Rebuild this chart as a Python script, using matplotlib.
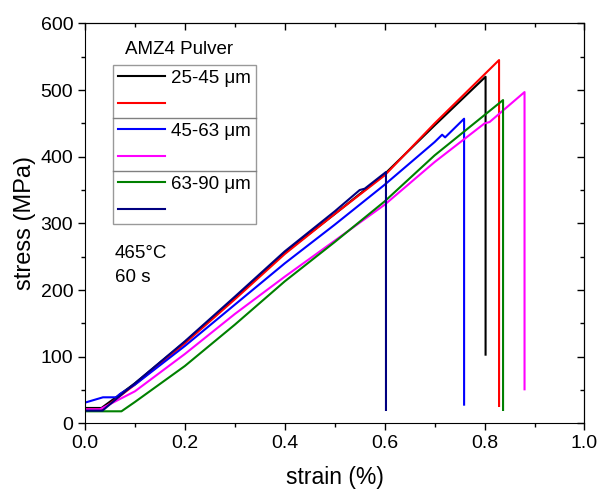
import numpy as np
import matplotlib
matplotlib.use('Agg')
import matplotlib.pyplot as plt
from matplotlib.lines import Line2D

plt.rcParams['font.family'] = ['Liberation Sans', 'DejaVu Sans']

# stress-strain curves (strain in %, stress in MPa)
strain_black = [0, 0.033, 0.1, 0.2, 0.3, 0.4, 0.5, 0.6, 0.7, 0.802, 0.802]
stress_black = [23, 23, 60, 122, 188, 256, 314, 374, 447, 520, 103]

strain_red = [0, 0.035, 0.1, 0.2, 0.3, 0.4, 0.5, 0.6, 0.7, 0.829, 0.829]
stress_red = [21, 21, 58, 120, 186, 254, 314, 372, 450, 545, 26]

strain_blue = [0, 0.036, 0.063, 0.07, 0.1, 0.2, 0.3, 0.4, 0.5, 0.6, 0.7, 0.715, 0.721, 0.759, 0.759]
stress_blue = [31, 39, 39, 44, 58, 116, 178, 240, 298, 358, 422, 433, 429, 457, 28]

strain_magenta = [0, 0.03, 0.1, 0.2, 0.3, 0.4, 0.5, 0.6, 0.7, 0.8, 0.81, 0.88, 0.88]
stress_magenta = [21, 21, 48, 104, 164, 220, 274, 328, 392, 450, 452, 497, 51]

strain_green = [0, 0.073, 0.1, 0.2, 0.3, 0.4, 0.5, 0.6, 0.7, 0.837, 0.837]
stress_green = [18, 18, 32, 86, 148, 213, 272, 333, 402, 485, 20]

strain_navy = [0, 0.035, 0.1, 0.2, 0.3, 0.4, 0.5, 0.55, 0.56, 0.6026, 0.6026]
stress_navy = [19, 19, 60, 123, 190, 258, 318, 350, 352, 377, 20]

labels = ['25-45 \u03bcm', '', '45-63 \u03bcm', '', '63-90 \u03bcm', '']

fig = plt.figure(figsize=(6.01, 4.98), dpi=100)
ax = fig.add_axes([0.1414, 0.15, 0.8311, 0.803])

lw = 1.5
ax.plot(strain_black, stress_black, color='black', lw=lw)
ax.plot(strain_red, stress_red, color='#ff0000', lw=lw)
ax.plot(strain_blue, stress_blue, color='#0000ff', lw=lw)
ax.plot(strain_magenta, stress_magenta, color='#ff00ff', lw=lw)
ax.plot(strain_green, stress_green, color='#008000', lw=lw)
ax.plot(strain_navy, stress_navy, color='#000080', lw=lw)
lines = ax.get_lines()

ax.set_xlim(0, 1.0)
ax.set_ylim(0, 600)
ax.set_xticks(np.arange(0, 1.01, 0.2))
ax.set_xticks(np.arange(0.1, 1.0, 0.2), minor=True)
ax.set_yticks(np.arange(0, 601, 100))
ax.set_yticks(np.arange(50, 600, 100), minor=True)
ax.xaxis.set_major_formatter(matplotlib.ticker.FormatStrFormatter('%.1f'))
ax.tick_params(which='major', direction='out', length=5, width=1, labelsize=14)
ax.tick_params(which='minor', direction='out', length=3, width=1)

# mirrored ticks pointing inwards on top and right
top = ax.secondary_xaxis('top')
top.set_xticks(np.arange(0, 1.01, 0.2))
top.set_xticks(np.arange(0.1, 1.0, 0.2), minor=True)
top.tick_params(which='major', direction='in', length=5, width=1, labeltop=False)
top.tick_params(which='minor', direction='in', length=3, width=1)
right = ax.secondary_yaxis('right')
right.set_yticks(np.arange(0, 601, 100))
right.set_yticks(np.arange(50, 600, 100), minor=True)
right.tick_params(which='major', direction='in', length=5, width=1, labelright=False)
right.tick_params(which='minor', direction='in', length=3, width=1)

ax.set_xlabel('strain (%)', fontsize=16.5, labelpad=10)
ax.set_ylabel('stress (MPa)', fontsize=17, labelpad=3)

leg = ax.legend(lines, labels, loc='upper left', bbox_to_anchor=(0.056, 0.896),
                fontsize=13.5, frameon=True, fancybox=False, edgecolor='#808080',
                handlelength=2.55, handletextpad=0.3, labelspacing=0.5,
                borderpad=0.25, borderaxespad=0)
leg.get_frame().set_linewidth(1.0)
ax.text(0.08, 0.935, 'AMZ4 Pulver', transform=ax.transAxes, fontsize=13.5,
        va='center', ha='left')

ax.text(0.06, 0.395, '465\u00b0C\n60 s', transform=ax.transAxes, fontsize=13.5,
        va='center', ha='left', linespacing=1.5)

# separators between the three size groups of the legend
fig.canvas.draw()
bb = leg.get_frame().get_window_extent().transformed(fig.transFigure.inverted())
for k in (1, 2):
    yk = bb.y1 - k * bb.height / 3
    fig.add_artist(Line2D([bb.x0, bb.x1], [yk, yk], transform=fig.transFigure,
                          color='#808080', lw=1.0))

fig.savefig('out.png', dpi=100)
